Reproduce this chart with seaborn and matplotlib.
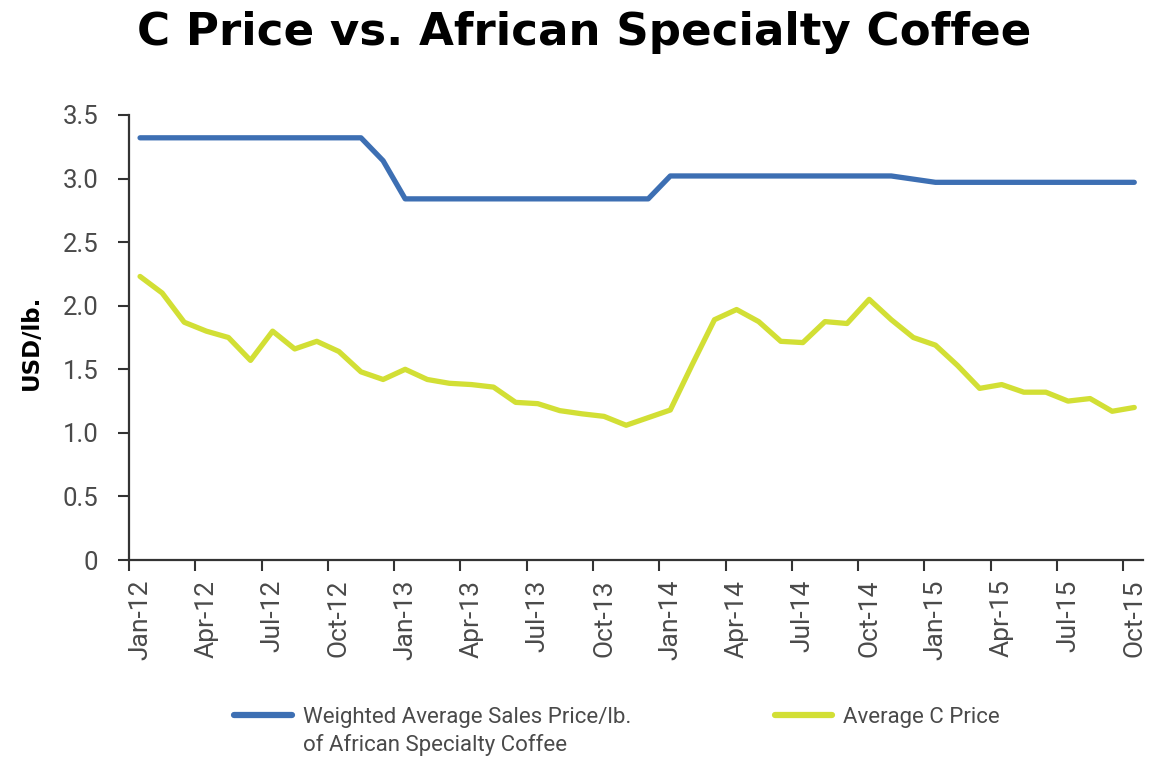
import numpy as np
import pandas as pd
import matplotlib
matplotlib.use("Agg")
import matplotlib.pyplot as plt
import seaborn as sns
from matplotlib.lines import Line2D

# monthly data, Jan-12 .. Oct-15
months = pd.date_range("2012-01-01", "2015-10-01", freq="MS")
month_labels = [m.strftime("%b-%y") for m in months]

specialty_price = [3.32, 3.32, 3.32, 3.32, 3.32, 3.32, 3.32, 3.32, 3.32, 3.32, 3.32, 3.14,
                   2.84, 2.84, 2.84, 2.84, 2.84, 2.84, 2.84, 2.84, 2.84, 2.84, 2.84, 2.84,
                   3.02, 3.02, 3.02, 3.02, 3.02, 3.02, 3.02, 3.02, 3.02, 3.02, 3.02, 2.995,
                   2.97, 2.97, 2.97, 2.97, 2.97, 2.97, 2.97, 2.97, 2.97, 2.97]
c_price = [2.23, 2.10, 1.87, 1.80, 1.75, 1.57, 1.80, 1.66, 1.72, 1.64, 1.48, 1.42,
           1.50, 1.42, 1.39, 1.38, 1.36, 1.24, 1.23, 1.175, 1.15, 1.13, 1.06, 1.12,
           1.18, 1.54, 1.89, 1.97, 1.875, 1.72, 1.71, 1.875, 1.86, 2.05, 1.89, 1.75,
           1.69, 1.53, 1.35, 1.38, 1.32, 1.32, 1.25, 1.27, 1.17, 1.20]

series_names = ["Weighted Average Sales Price/lb.", "Average C Price"]
legend_second_line = "of African Specialty Coffee"
colors = ["#3d6fb3", "#d2df35"]
y_ticks = [0, 0.5, 1.0, 1.5, 2.0, 2.5, 3.0, 3.5]
y_ticklabels = ["0", "0.5", "1.0", "1.5", "2.0", "2.5", "3.0", "3.5"]

df = pd.DataFrame({"idx": np.arange(len(months)),
                   series_names[0]: specialty_price,
                   series_names[1]: c_price})
long = df.melt(id_vars="idx", var_name="series", value_name="price")

sns.set_style("white")
plt.rcParams["font.family"] = ["Roboto", "DejaVu Sans"]

fig = plt.figure(figsize=(11.57, 7.61), dpi=100)
ax = fig.add_axes([0.1115, 0.264, 0.8765, 0.585])

sns.lineplot(data=long, x="idx", y="price", hue="series", palette=colors,
             linewidth=3.8, ax=ax, legend=False)

ax.set_xlim(-0.45, 45.4)
ax.set_ylim(0, 3.5)

# labels centred on months, tick marks on month boundaries
lab_pos = np.arange(0, len(months), 3)
ax.set_xticks(lab_pos)
ax.set_xticklabels([month_labels[i] for i in lab_pos], rotation=90,
                   fontsize=19, color="#4a4a4a")
ax.set_xticks(lab_pos - 0.5, minor=True)
ax.tick_params(axis="x", which="both", bottom=True)
ax.tick_params(axis="x", which="major", length=0, pad=14)
ax.tick_params(axis="x", which="minor", length=8, width=1.5, color="#333333", direction="out")

ax.set_yticks(y_ticks)
ax.set_yticklabels(y_ticklabels, fontsize=18.5, color="#4a4a4a")
ax.tick_params(axis="y", left=True, length=8, width=1.5, color="#333333",
               direction="out", pad=14)
ax.set_ylabel("USD/lb.", fontsize=16.5, fontweight="bold", color="black",
              family=["DejaVu Sans"])
ax.yaxis.set_label_coords(-0.085, 0.49)
ax.set_xlabel("")

for s in ["top", "right"]:
    ax.spines[s].set_visible(False)
for s in ["left", "bottom"]:
    ax.spines[s].set_color("#333333")
    ax.spines[s].set_linewidth(1.6)

fig.text(0.505, 1 - 45 / 761, "C Price vs. African Specialty Coffee", ha="center",
         va="baseline", fontsize=32.5, fontweight="bold", color="black",
         family=["DejaVu Sans"])

handles = [Line2D([], [], color=c, linewidth=4.5) for c in colors]
leg = fig.legend(handles, series_names, loc="center left",
                 bbox_to_anchor=(0.185, 1 - 717 / 761), ncol=2, frameon=False,
                 handlelength=2.6, handletextpad=0.5, columnspacing=6.45,
                 prop={"size": 16}, labelcolor="#4a4a4a")

# second line of the first legend label, under its first line
fig.canvas.draw()
bb = leg.get_texts()[0].get_window_extent().transformed(fig.transFigure.inverted())
fig.text(bb.x0, bb.y0 - 0.008, legend_second_line, ha="left", va="top",
         fontsize=16, color="#4a4a4a")

fig.savefig("out.png", dpi=100)
